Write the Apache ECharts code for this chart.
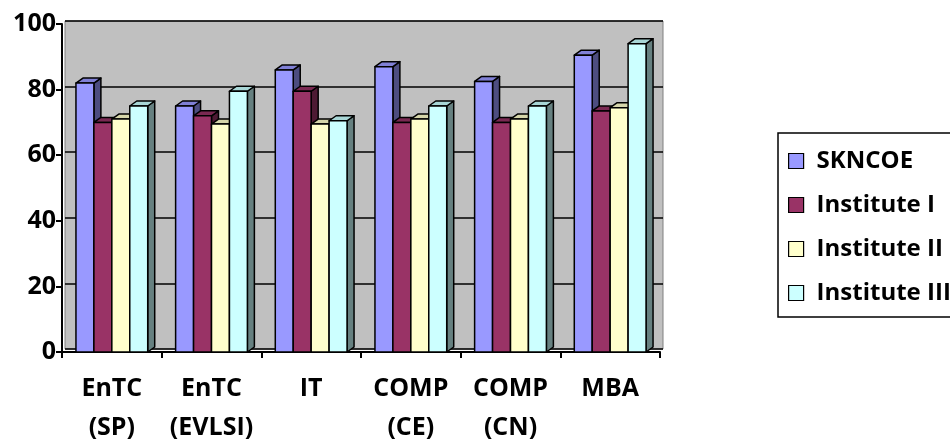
<!DOCTYPE html>
<html>
<head>
<meta charset="utf-8">
<script src="https://cdn.jsdelivr.net/npm/echarts@6/dist/echarts.min.js"></script>
<style>
  html, body { margin: 0; padding: 0; background: #fff; }
  #chart { width: 950px; height: 441px; }
</style>
</head>
<body>
<div id="chart"></div>
<script>
const categories = ['EnTC\n(SP)', 'EnTC\n(EVLSI)', 'IT', 'COMP\n(CE)', 'COMP\n(CN)', 'MBA'];
const seriesNames = ['SKNCOE', 'Institute I', 'Institute II', 'Institute III'];
const skncoe = [82, 75, 86, 87, 82.5, 90.5];
const inst1 = [70, 72, 79.5, 70, 70, 73.5];
const inst2 = [71, 69.5, 69.5, 71, 71, 74.5];
const inst3 = [75, 79.5, 70.5, 75, 75, 94];
const yTicks = [0, 20, 40, 60, 80, 100];

const faceColors = ['#9999ff', '#993366', '#ffffcc', '#ccffff'];
const topColors = ['#8080d6', '#7a2952', '#d6d6aa', '#a8d6d6'];
const sideColors = ['#4d4d80', '#4d1a33', '#808066', '#668080'];
const font = '"Open Sans", "DejaVu Sans", sans-serif';

const chart = echarts.init(document.getElementById('chart'));

function makeRender(idx) {
    return function (params, api) {
        const cat = api.value(0);
        const val = api.value(1);
        const base = api.coord([cat, 0]);
        const top = api.coord([cat, val]);
        const band = api.size([1, 0])[0];
        const bw = band * 0.18;
        const x0 = base[0] - 2 * bw + idx * bw;
        const x1 = x0 + bw;
        const y0 = top[1], y1 = base[1];
        const dx = 7, dy = 5;
        const stroke = { stroke: '#000', lineWidth: 1.5, lineJoin: 'round' };
        return {
            type: 'group',
            children: [
                {
                    type: 'polygon',
                    shape: { points: [[x1, y0], [x1 + dx, y0 - dy], [x1 + dx, y1 - dy], [x1, y1]] },
                    style: Object.assign({ fill: sideColors[idx] }, stroke)
                },
                {
                    type: 'polygon',
                    shape: { points: [[x0, y0], [x0 + dx, y0 - dy], [x1 + dx, y0 - dy], [x1, y0]] },
                    style: Object.assign({ fill: topColors[idx] }, stroke)
                },
                {
                    type: 'rect',
                    shape: { x: x0, y: y0, width: bw, height: y1 - y0 },
                    style: Object.assign({ fill: faceColors[idx] }, stroke)
                }
            ]
        };
    };
}

const allValues = [skncoe, inst1, inst2, inst3];

const option = {
    animation: false,
    legend: {
        orient: 'vertical',
        left: 778,
        top: 133,
        padding: [16, 40, 12, 10],
        borderColor: '#000',
        borderWidth: 1.5,
        icon: 'rect',
        itemWidth: 15,
        itemHeight: 15,
        itemGap: 20,
        itemStyle: { borderColor: '#000', borderWidth: 1.2 },
        textStyle: {
            fontFamily: font,
            fontWeight: 'bold',
            fontSize: 24,
            lineHeight: 24,
            color: '#000',
            padding: [0, 0, 0, 8]
        },
        data: seriesNames
    },
    grid: [
        { left: 62, right: 290, top: 24, bottom: 89, outerBoundsMode: 'none' },
        { left: 65, right: 287, top: 21, bottom: 92, outerBoundsMode: 'none', show: true, backgroundColor: '#c0c0c0', borderColor: '#808080', borderWidth: 1 }
    ],
    xAxis: [
        {
            type: 'category',
            gridIndex: 0,
            data: categories,
            axisLine: { lineStyle: { color: '#000', width: 2 } },
            axisTick: { show: true, length: 6, lineStyle: { color: '#000', width: 2 } },
            axisLabel: {
                interval: 0,
                margin: 17,
                fontFamily: font,
                fontWeight: 'bold',
                fontSize: 25,
                lineHeight: 39,
                color: '#000'
            }
        },
        { type: 'value', gridIndex: 1, show: false, min: 0, max: 1 }
    ],
    yAxis: [
        {
            type: 'value',
            gridIndex: 0,
            min: 0,
            max: 100,
            interval: 20,
            axisLine: { show: true, lineStyle: { color: '#000', width: 2 } },
            axisTick: { show: true, length: 6, lineStyle: { color: '#000', width: 2 } },
            splitLine: { show: false },
            axisLabel: {
                margin: 6,
                fontFamily: font,
                fontWeight: 'bold',
                fontSize: 25,
                color: '#000',
                formatter: function (v) { return yTicks.indexOf(v) >= 0 ? String(v) : ''; }
            }
        },
        {
            type: 'value',
            gridIndex: 1,
            min: 0,
            max: 100,
            interval: 20,
            axisLine: { show: false },
            axisTick: { show: false },
            axisLabel: { show: false },
            splitLine: { show: true, lineStyle: { color: '#000', width: 1.5 } }
        }
    ],
    series: seriesNames.map(function (name, i) {
        return {
            name: name,
            type: 'custom',
            xAxisIndex: 0,
            yAxisIndex: 0,
            itemStyle: { color: faceColors[i] },
            encode: { x: 0, y: 1 },
            renderItem: makeRender(i),
            data: allValues[i].map(function (v, c) { return [c, v]; })
        };
    })
};

chart.setOption(option);

window.addEventListener('resize', function () {
    chart.resize();
});
</script>
</body>
</html>
